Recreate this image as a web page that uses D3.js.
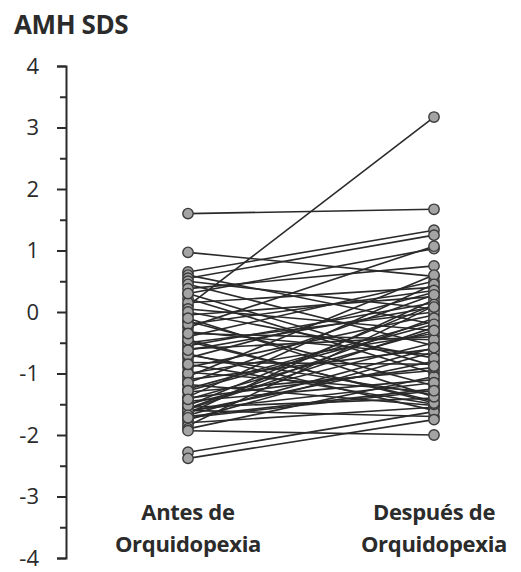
<!DOCTYPE html>
<html>
<head>
<meta charset="utf-8">
<script src="https://cdn.jsdelivr.net/npm/d3@7"></script>
<style>
  body { margin: 0; background: #fff; }
  svg text { font-family: "Open Sans", sans-serif; fill: #2b2b2b; }
</style>
</head>
<body>
<div id="chart"></div>
<script>
// AMH SDS before / after, one pair per patient
const groups = ["Antes de|Orquidopexia", "Después de|Orquidopexia"];
const yTicks = [-4, -3, -2, -1, 0, 1, 2, 3, 4];
const antes = [1.6, 0.97, 0.1, 0.65, 0.6, 0.55, 0.5, 0.45, 0.38, 0.3,
               0.22, 0.15, 0.05, -0.05, -0.15, -0.25, -0.32, -0.4, -0.48, -0.55,
               -0.6, -0.68, -0.75, -0.82, -0.9, -0.98, -1.05, -1.1, -1.18, -1.25,
               -1.3, -1.38, -1.45, -1.5, -1.55, -1.58, -1.6, -1.62, -1.65, -1.7,
               -1.75, -1.8, -1.85, -1.9, -1.93, -2.28, -2.38, 0.0, -0.2, -0.7,
               -1.0, -1.4, -0.5, -0.85, -1.15, -1.57, -1.6, -1.52, -0.45, -0.35,
               -1.28, -1.68, -0.1, -0.62, -1.42, 0.3, -1.72];
const despues = [1.67, 0.58, 3.17, 1.33, -0.2, 1.25, 0.05, -0.55, 0.75, 1.03,
                 -1.0, 0.4, -0.3, 0.25, -1.2, 1.07, -0.7, 0.5, -1.45, 0.15,
                 -0.4, -1.6, 0.32, -0.85, -0.05, -1.3, 0.6, -0.6, -1.52, -0.15,
                 -0.95, 0.45, -1.1, -0.5, -1.4, -0.25, -1.7, -0.8, 0.2, -1.25,
                 -0.65, -1.55, 0.1, -1.05, -2.0, -1.62, -1.75, -0.75, 0.35, -1.35,
                 -0.35, -0.9, 0.0, -1.5, 0.28, -0.1, -1.15, 0.12, -1.48, -0.45,
                 -0.2, -0.58, -1.38, 0.08, -0.3, -0.88, -1.28];

const width = 521, height = 572;
const svg = d3.select("#chart").append("svg")
    .attr("width", width)
    .attr("height", height);

const y = d3.scaleLinear().domain([-4, 4]).range([558, 66]);
const x = d3.scalePoint().domain(groups).range([188, 434]);

// title
svg.append("text")
    .attr("x", 14).attr("y", 34)
    .attr("font-size", "26px")
    .attr("font-weight", "bold")
    .attr("letter-spacing", "-0.4px")
    .text("AMH SDS");

// y axis with minor ticks
const axisX = 66;
const yAxis = svg.append("g").attr("transform", `translate(${axisX},0)`);
yAxis.append("g")
    .call(d3.axisLeft(y).tickValues(d3.range(-3.5, 4, 1)).tickSize(6).tickFormat(""))
    .call(g => g.select(".domain").remove())
    .selectAll("line").attr("stroke", "#2b2b2b").attr("stroke-width", 2);
yAxis.append("g")
    .call(d3.axisLeft(y).tickValues(yTicks).tickSize(9).tickPadding(18).tickSizeOuter(9)
        .tickFormat(d => String(d)))
    .call(g => g.select(".domain").attr("stroke", "#2b2b2b").attr("stroke-width", 2))
    .call(g => g.selectAll("line").attr("stroke", "#2b2b2b").attr("stroke-width", 2))
    .call(g => g.selectAll("text")
        .attr("font-size", "22px")
        .attr("fill", "#2b2b2b")
        .attr("dy", "0.34em")
        .attr("font-family", "'Open Sans', sans-serif"));

// group labels
groups.forEach(gName => {
    const lines = gName.split("|");
    const t = svg.append("text")
        .attr("text-anchor", "middle")
        .attr("font-size", "22px")
        .attr("font-weight", "bold")
        .attr("letter-spacing", "-0.3px");
    lines.forEach((l, i) => {
        t.append("tspan").attr("x", x(gName)).attr("y", 520 + i * 32).text(l);
    });
});

const pairs = antes.map((a, i) => ({a: a, d: despues[i]}));

// paired lines
svg.append("g").selectAll("line")
    .data(pairs)
    .enter().append("line")
    .attr("x1", x(groups[0])).attr("y1", d => y(d.a))
    .attr("x2", x(groups[1])).attr("y2", d => y(d.d))
    .attr("stroke", "#2a2a2a")
    .attr("stroke-width", 1.6);

// markers
const dots = svg.append("g");
[["a", 0], ["d", 1]].forEach(([k, gi]) => {
    dots.selectAll(".dot-" + k)
        .data(pairs)
        .enter().append("circle")
        .attr("class", "dot-" + k)
        .attr("cx", x(groups[gi]))
        .attr("cy", d => y(d[k]))
        .attr("r", 5.2)
        .attr("fill", "#a4a4a4")
        .attr("stroke", "#3a3a3a")
        .attr("stroke-width", 1.4);
});
</script>
</body>
</html>
